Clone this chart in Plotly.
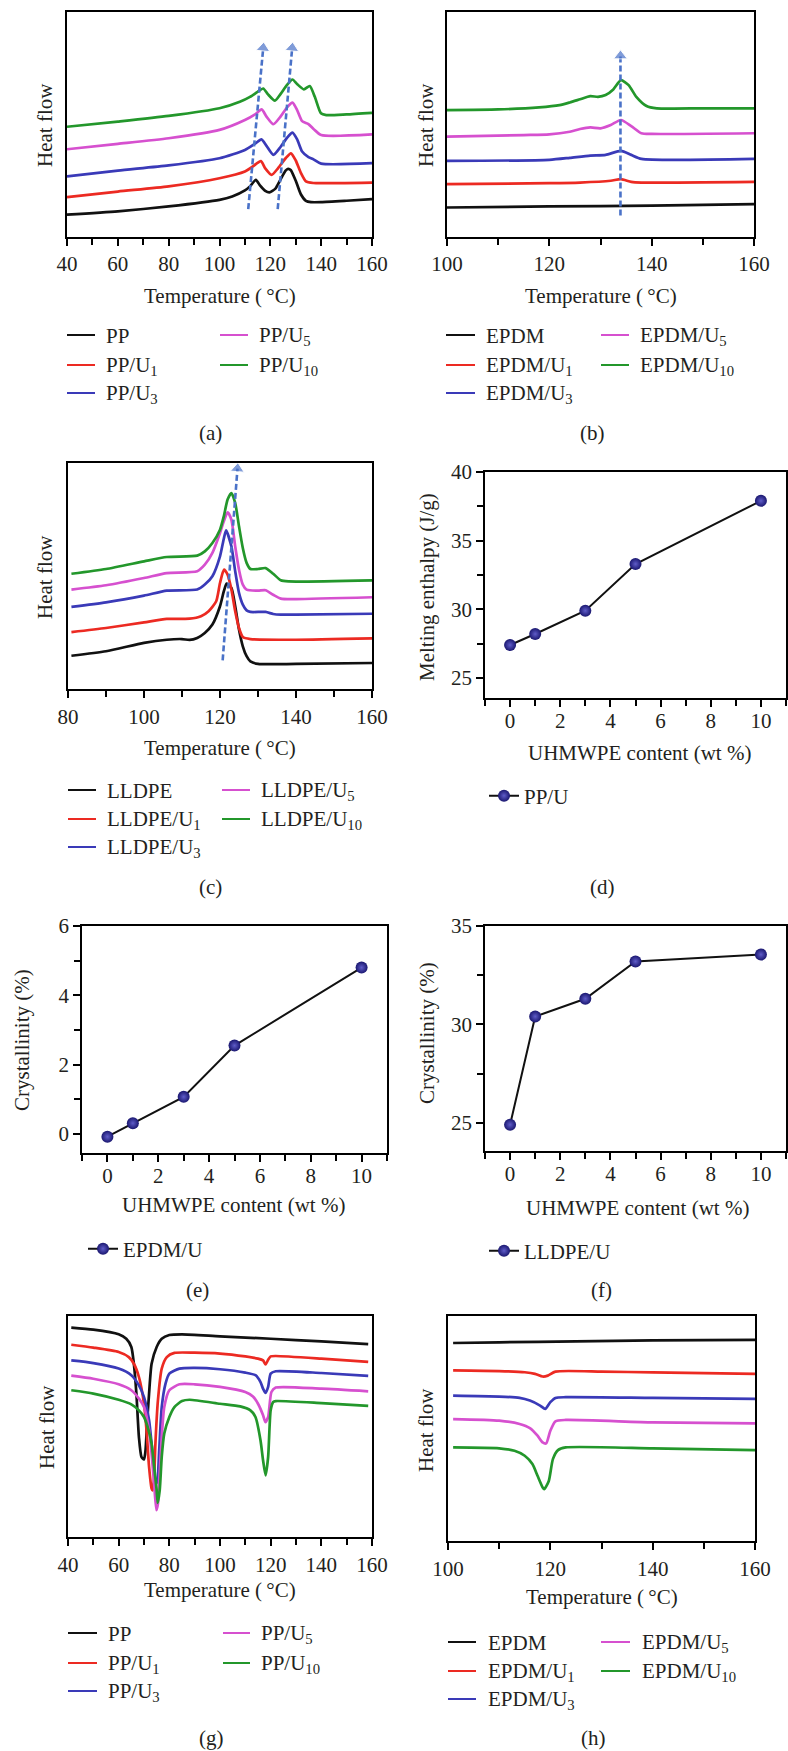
import plotly.graph_objects as go

W, H = 788, 1751
FONT = "Liberation Serif"
FS = 21
TXT = "#231f20"
COLORS = ["#111111", "#ec2a22", "#3a3ab8", "#d650cf", "#23972b"]
ARROW = "#4a72c8"

# ---------------- data ----------------
# (a) PP melting
a_names = ["PP", "PP/U<sub>1</sub>", "PP/U<sub>3</sub>", "PP/U<sub>5</sub>", "PP/U<sub>10</sub>"]
a_pp_T = [40, 60, 80, 100, 105, 110, 112, 114.3, 116, 118, 119.6, 122, 124, 126, 127, 128, 130, 132, 134, 136, 140, 150, 160]
a_pp_y = [9.9, 11.4, 13.6, 16.5, 18.0, 20.7, 22.5, 25.4, 22.8, 20.5, 19.8, 21.5, 25.5, 29.5, 30.3, 29.8, 25.0, 19.0, 16.1, 15.5, 15.5, 16.1, 16.8]
a_u1_T = [40, 60, 80, 100, 110, 113, 116.3, 118, 120.5, 123, 126, 128.1, 130, 132, 134, 137, 140, 160]
a_u1_y = [17.7, 20.2, 22.5, 26.1, 29.1, 31.3, 33.7, 30.5, 27.6, 30.5, 35.0, 37.2, 34.0, 28.5, 24.7, 24.0, 23.9, 24.2]
a_u3_T = [40, 60, 80, 100, 110, 114, 116.5, 118.5, 121.2, 124, 126.5, 128.7, 130.5, 132.5, 135, 137, 140, 160]
a_u3_y = [26.9, 29.5, 31.8, 35.0, 38.7, 41.5, 43.4, 40.5, 36.5, 40.0, 44.0, 46.4, 43.5, 38.0, 35.5, 34.5, 32.6, 32.8]
a_u5_T = [40, 60, 80, 100, 110, 114, 116.6, 118.5, 121.2, 124, 126.5, 128.7, 130.5, 132.5, 135, 137, 140, 160]
a_u5_y = [39.0, 41.4, 43.9, 47.6, 52.0, 54.5, 56.7, 53.5, 50.1, 53.5, 57.5, 59.7, 56.5, 51.5, 50.2, 48.0, 45.3, 45.6]
a_u10_T = [40, 60, 80, 100, 108, 112, 115, 117.2, 119, 121.8, 124, 126.5, 128.7, 130.5, 133.2, 135.5, 137.5, 139.9, 142, 150, 160]
a_u10_y = [49.0, 51.3, 53.8, 57.2, 60.1, 62.3, 64.5, 66.0, 63.5, 60.6, 63.5, 67.5, 70.0, 68.0, 65.6, 67.1, 62.3, 55.0, 54.2, 54.5, 55.2]
a_arrows = [([111.3, 117.2], [12.4, 84.0]), ([122.9, 128.6], [12.4, 84.0])]

# (b) EPDM melting
b_names = ["EPDM", "EPDM/U<sub>1</sub>", "EPDM/U<sub>3</sub>", "EPDM/U<sub>5</sub>", "EPDM/U<sub>10</sub>"]
b_ep_T = [100, 120, 140, 160]
b_ep_y = [13.1, 13.6, 13.9, 14.6]
b_u1_T = [100, 120, 126, 132, 134, 136, 138, 160]
b_u1_y = [23.5, 23.9, 24.2, 25.0, 25.7, 24.5, 24.2, 24.5]
b_u3_T = [100, 120, 124, 128, 131, 134, 136, 138, 160]
b_u3_y = [33.8, 34.3, 35.2, 36.2, 36.5, 38.3, 36.5, 34.7, 34.7]
b_u5_T = [100, 115, 120, 124, 126, 128, 130, 132, 134, 136, 138, 140, 160]
b_u5_y = [44.6, 45.3, 45.6, 46.8, 48.0, 48.7, 48.3, 49.8, 52.0, 49.3, 46.1, 45.8, 46.1]
b_u10_T = [100, 110, 118, 122, 124, 126, 128, 129.5, 131, 132.5, 134, 135.5, 137, 139, 141, 150, 160]
b_u10_y = [56.4, 56.7, 57.6, 58.6, 59.8, 61.2, 62.6, 62.3, 63.1, 65.6, 69.7, 67.5, 62.3, 58.2, 57.2, 57.2, 57.2]
b_arrows = [([133.9, 133.9], [9.5, 80.5])]

# (c) LLDPE melting
c_names = ["LLDPE", "LLDPE/U<sub>1</sub>", "LLDPE/U<sub>3</sub>", "LLDPE/U<sub>5</sub>", "LLDPE/U<sub>10</sub>"]
c_ll_T = [80.9, 90, 100, 106, 110, 112, 114, 116, 118, 120, 121, 121.75, 123, 124, 125, 126, 127, 128, 130, 140, 160]
c_ll_y = [14.7, 16.7, 20.4, 21.8, 22.1, 21.7, 22.6, 24.8, 28.5, 36.6, 43.2, 46.6, 44.7, 36.6, 26.3, 18.9, 14.5, 12.2, 11.1, 11.1, 11.5]
c_u1_T = [80.9, 90, 100, 106, 112, 115, 117, 119, 120, 121.05, 122, 123, 124, 125, 126, 128, 140, 160]
c_u1_y = [25.2, 27.0, 29.5, 31.0, 31.1, 32.2, 34.4, 38.8, 46.9, 52.8, 50.6, 44.0, 34.4, 27.0, 23.0, 22.1, 21.8, 22.4]
c_u3_T = [80.9, 90, 100, 106, 114, 116, 118, 120, 121, 121.6, 123, 124, 125, 126, 127, 128, 132, 134, 136, 140, 160]
c_u3_y = [36.3, 38.3, 41.3, 43.5, 44.0, 46.2, 49.9, 58.7, 66.5, 70.2, 63.1, 52.1, 42.5, 37.3, 34.8, 34.1, 34.1, 33.2, 32.9, 32.9, 33.3]
c_u5_T = [80.9, 90, 100, 106, 114, 116, 118, 120, 121, 122, 123, 124, 125, 126, 127, 130, 132, 134, 136, 140, 160]
c_u5_y = [44.0, 45.9, 49.1, 51.3, 52.1, 55.0, 60.2, 69.0, 74.2, 78.2, 74.9, 63.1, 52.8, 46.2, 44.0, 43.5, 43.7, 41.7, 40.0, 39.8, 40.6]
c_u10_T = [80.9, 90, 100, 106, 114, 116, 118, 120, 121, 122, 123, 124, 125, 126, 127, 128, 130, 132, 134, 136, 138, 160]
c_u10_y = [51.0, 53.1, 56.5, 58.4, 59.0, 60.9, 64.6, 70.5, 76.4, 83.8, 86.7, 82.3, 72.0, 62.4, 55.8, 53.1, 53.1, 53.5, 51.0, 48.1, 47.6, 48.1]
c_arrows = [([120.7, 124.6], [12.7, 97.5])]

# (d)-(f) summary values
uhmwpe_content = [0, 1, 3, 5, 10]
d_melting_enthalpy = [27.4, 28.2, 29.9, 33.3, 37.9]
e_crystallinity = [-0.08, 0.31, 1.07, 2.55, 4.8]
f_crystallinity = [24.9, 30.4, 31.3, 33.2, 33.55]

# (g) PP crystallization
g_pp_T = [41.3, 50, 60, 63, 65, 66, 67, 68, 69, 70, 70.6, 71.2, 72, 73, 75, 77, 80, 85, 100, 120, 140, 158.5]
g_pp_y = [94.7, 93.8, 91.7, 89.7, 86.0, 78.4, 64.9, 45.2, 36.2, 35.1, 39.2, 51.3, 64.9, 78.4, 86.0, 89.7, 91.4, 91.7, 90.8, 89.7, 88.5, 87.3]
g_u1_T = [41.3, 50, 60, 64, 66, 68, 70, 71, 72, 73, 73.4, 74, 74.5, 75.5, 77, 79, 82, 90, 100, 110, 115, 117, 118, 119, 120, 122, 140, 158.5]
g_u1_y = [87.0, 85.7, 83.7, 81.4, 78.4, 72.4, 60.3, 48.3, 31.7, 21.9, 21.1, 27.1, 42.2, 61.8, 76.2, 81.4, 83.3, 83.4, 83.0, 81.7, 80.7, 79.9, 78.1, 80.2, 81.7, 81.9, 80.7, 79.2]
g_u3_T = [41.3, 50, 60, 65, 68, 70, 72, 73, 74, 74.7, 75.3, 76, 77, 78.5, 80, 84, 90, 100, 110, 114, 116, 117, 118, 119, 120, 122, 140, 158.5]
g_u3_y = [79.9, 78.7, 76.2, 73.2, 68.6, 63.3, 52.8, 42.2, 30.2, 24.1, 25.6, 39.2, 58.8, 69.4, 73.9, 76.2, 76.5, 75.9, 74.4, 73.2, 70.1, 67.1, 65.2, 67.9, 73.9, 75.0, 74.2, 72.9]
g_u5_T = [41.3, 50, 60, 65, 68, 70, 72, 73, 74, 74.9, 75.5, 76, 77, 78, 80, 84, 90, 100, 110, 113, 115, 117, 117.9, 119, 120.3, 122, 140, 158.5]
g_u5_y = [73.0, 71.6, 69.1, 66.4, 62.6, 58.8, 48.3, 37.7, 24.1, 12.1, 15.1, 25.6, 45.2, 58.8, 66.4, 69.1, 69.1, 67.9, 65.6, 63.6, 60.3, 55.1, 52.0, 54.3, 65.6, 67.6, 67.1, 65.9]
g_u10_T = [41.3, 50, 60, 65, 68, 70, 72, 73, 74, 75, 75.4, 76.2, 77, 78, 80, 82, 85, 88, 100, 108, 112, 114, 116, 117, 118, 119, 120, 121, 122, 140, 158.5]
g_u10_y = [66.4, 64.9, 62.1, 60.0, 57.3, 54.3, 47.5, 42.2, 31.7, 21.1, 15.4, 21.1, 36.2, 46.8, 54.3, 58.8, 61.5, 62.1, 60.3, 59.1, 57.3, 54.3, 43.7, 34.7, 27.9, 36.2, 57.3, 61.1, 61.5, 60.6, 59.3]

# (h) EPDM crystallization
h_ep_T = [101, 110, 125, 140, 160]
h_ep_y = [88.0, 88.3, 88.7, 89.2, 89.4]
h_u1_T = [101, 110, 115, 117, 118.5, 119.5, 121, 130, 140, 160]
h_u1_y = [75.8, 75.5, 75.0, 74.3, 73.1, 73.5, 75.3, 75.3, 74.9, 74.3]
h_u3_T = [101, 110, 114, 116, 118, 119, 120, 121, 123, 140, 160]
h_u3_y = [64.6, 64.2, 63.6, 62.4, 60.2, 58.7, 61.7, 63.6, 63.9, 63.6, 63.2]
h_u5_T = [101, 110, 114, 116, 117.5, 118.5, 119.2, 120, 121, 123, 140, 160]
h_u5_y = [54.2, 53.5, 52.0, 50.2, 46.8, 43.8, 43.4, 49.0, 53.2, 53.8, 52.7, 52.3]
h_u10_T = [101, 110, 113, 115, 116.5, 117.5, 118.5, 118.8, 119.7, 120.5, 121.5, 123, 140, 160]
h_u10_y = [41.6, 41.2, 40.1, 37.9, 34.2, 29.0, 23.8, 23.0, 26.7, 36.4, 40.4, 41.6, 41.2, 40.4]

# ---------------- helpers ----------------
def px(x):
    return x / W

def py(y):
    return 1 - y / H

fig = go.Figure()

def add_curves(curves, xa, ya):
    for (T, y), col in zip(curves, COLORS):
        fig.add_trace(go.Scatter(x=T, y=y, mode="lines", xaxis=xa, yaxis=ya,
                                 line=dict(color=col, width=2.7, shape="spline", smoothing=0.6),
                                 showlegend=False, hoverinfo="skip"))

def add_arrows(arrows, xa, ya):
    for xs, ys in arrows:
        fig.add_trace(go.Scatter(x=xs, y=ys, mode="lines+markers", xaxis=xa, yaxis=ya,
                                 line=dict(color=ARROW, width=2.6, dash="6px,3px"),
                                 marker=dict(symbol="triangle-up", size=[0, 12], color=ARROW,
                                             angleref="previous"),
                                 cliponaxis=False, showlegend=False, hoverinfo="skip"))

add_curves([(a_pp_T, a_pp_y), (a_u1_T, a_u1_y), (a_u3_T, a_u3_y), (a_u5_T, a_u5_y), (a_u10_T, a_u10_y)], "x", "y")
add_arrows(a_arrows, "x", "y")
add_curves([(b_ep_T, b_ep_y), (b_u1_T, b_u1_y), (b_u3_T, b_u3_y), (b_u5_T, b_u5_y), (b_u10_T, b_u10_y)], "x2", "y2")
add_arrows(b_arrows, "x2", "y2")
add_curves([(c_ll_T, c_ll_y), (c_u1_T, c_u1_y), (c_u3_T, c_u3_y), (c_u5_T, c_u5_y), (c_u10_T, c_u10_y)], "x3", "y3")
add_arrows(c_arrows, "x3", "y3")
add_curves([(g_pp_T, g_pp_y), (g_u1_T, g_u1_y), (g_u3_T, g_u3_y), (g_u5_T, g_u5_y), (g_u10_T, g_u10_y)], "x7", "y7")
add_curves([(h_ep_T, h_ep_y), (h_u1_T, h_u1_y), (h_u3_T, h_u3_y), (h_u5_T, h_u5_y), (h_u10_T, h_u10_y)], "x8", "y8")

MARK = dict(size=12, color="#1a1770", line=dict(width=0),
            gradient=dict(type="radial", color="#5f5cc8"))
for vals, name, xa, ya, lg in [(d_melting_enthalpy, "PP/U", "x4", "y4", "legend"),
                               (e_crystallinity, "EPDM/U", "x5", "y5", "legend2"),
                               (f_crystallinity, "LLDPE/U", "x6", "y6", "legend3")]:
    fig.add_trace(go.Scatter(x=uhmwpe_content, y=vals, mode="lines+markers", name=name,
                             xaxis=xa, yaxis=ya, legend=lg,
                             line=dict(color="#111111", width=2), marker=MARK,
                             cliponaxis=False, showlegend=True))

# ---------------- axes ----------------
TICKFONT = dict(family=FONT, size=FS, color=TXT)

def xdom(l, r):
    return [px(l), px(r)]

def ydom(t, b):
    return [py(b), py(t)]

def base_axis():
    return dict(showline=True, linecolor="black", linewidth=1.5, mirror=True,
                showgrid=False, zeroline=False, fixedrange=True, automargin=False)

def heat_x(dom, rng, dtick, standoff=1):
    d = base_axis()
    d.update(domain=dom, range=rng, dtick=dtick, tick0=rng[0], ticks="outside", ticklen=7,
             tickwidth=1.5, tickcolor="black", tickfont=TICKFONT, ticklabelstandoff=standoff,
             minor=dict(ticks="outside", ticklen=6, tickwidth=1.5, tickcolor="black",
                        dtick=10, tick0=0, showgrid=False))
    return d

def heat_y(dom):
    d = base_axis()
    d.update(domain=dom, range=[0, 100], showticklabels=False, ticks="")
    return d

def num_x(dom):
    d = base_axis()
    d.update(domain=dom, range=[-1, 11], dtick=2, tick0=0, ticks="outside", ticklen=7,
             tickwidth=1.5, tickcolor="black", tickfont=TICKFONT, ticklabelstandoff=-4,
             minor=dict(ticks="outside", ticklen=6, tickwidth=1.5, tickcolor="black",
                        dtick=1, tick0=0, showgrid=False))
    return d

def num_y(dom, rng, dtick, minor):
    d = base_axis()
    d.update(domain=dom, range=rng, dtick=dtick, tick0=0, ticks="outside", ticklen=7,
             tickwidth=1.5, tickcolor="black", tickfont=TICKFONT,
             minor=dict(ticks="outside", ticklen=6, tickwidth=1.5, tickcolor="black",
                        dtick=minor, tick0=0, showgrid=False))
    return d

layout = dict(
    width=W, height=H, margin=dict(l=0, r=0, t=0, b=0, pad=0, autoexpand=False),
    autosize=False,
    paper_bgcolor="white", plot_bgcolor="rgba(0,0,0,0)",
    font=dict(family=FONT, size=FS, color=TXT),
    xaxis=dict(heat_x(xdom(67, 372), [40, 160], 20, 0), anchor="y"),
    yaxis=dict(heat_y(ydom(12, 237)), anchor="x"),
    xaxis2=dict(heat_x(xdom(447, 754), [100, 160], 20, 0), anchor="y2"),
    yaxis2=dict(heat_y(ydom(12, 237)), anchor="x2"),
    xaxis3=dict(heat_x(xdom(68, 372), [80, 160], 20, 1), anchor="y3"),
    yaxis3=dict(heat_y(ydom(463, 689)), anchor="x3"),
    xaxis4=dict(num_x(xdom(485, 786)), anchor="y4"),
    yaxis4=dict(num_y(ydom(472, 698), [23.54, 40], 5, 2.5), anchor="x4"),
    xaxis5=dict(num_x(xdom(82, 387)), anchor="y5"),
    yaxis5=dict(num_y(ydom(926, 1153), [-0.55, 6], 2, 1), anchor="x5"),
    xaxis6=dict(num_x(xdom(485, 786)), anchor="y6"),
    yaxis6=dict(num_y(ydom(926, 1151), [23.56, 35], 5, 2.5), anchor="x6"),
    xaxis7=dict(heat_x(xdom(68, 372), [40, 160], 20, 1), anchor="y7"),
    yaxis7=dict(heat_y(ydom(1316, 1537)), anchor="x7"),
    xaxis8=dict(heat_x(xdom(448, 755), [100, 160], 20, 1), anchor="y8"),
    yaxis8=dict(heat_y(ydom(1316, 1541)), anchor="x8"),
)

LEG = dict(xanchor="left", yanchor="middle", bgcolor="rgba(0,0,0,0)", borderwidth=0,
           itemwidth=30, font=dict(family=FONT, size=FS, color=TXT), itemclick=False)
layout["legend"] = dict(LEG, x=px(484), y=py(796))
layout["legend2"] = dict(LEG, x=px(83), y=py(1249))
layout["legend3"] = dict(LEG, x=px(484), y=py(1251))
fig.update_layout(**layout)

# ---------------- text annotations ----------------
ann = []
shapes = []

def text(x, y, s, angle=0, xanchor="center"):
    ann.append(dict(x=px(x), y=py(y), xref="paper", yref="paper", text=s, showarrow=False,
                    textangle=angle, xanchor=xanchor, yanchor="middle",
                    font=dict(family=FONT, size=FS, color=TXT)))

TEMP = "Temperature (\u2009°C)"
UHM = "UHMWPE content (wt %)"
# axis titles
text(220, 296, TEMP); text(601, 296, TEMP); text(220, 748, TEMP)
text(220, 1590, TEMP); text(602, 1597, TEMP)
text(639, 753, UHM); text(233, 1205, UHM); text(637, 1208, UHM)
text(45, 125, "Heat flow", -90); text(426, 125, "Heat flow", -90)
text(45, 577, "Heat flow", -90); text(47, 1427, "Heat flow", -90); text(426, 1430, "Heat flow", -90)
text(427, 587, "Melting enthalpy (J/g)", -90)
text(22, 1040, "Crystallinity (%)", -90)
text(427, 1033, "Crystallinity (%)", -90)
# captions
for cx, cy, s in [(210, 433, "(a)"), (592, 433, "(b)"), (210, 887, "(c)"), (602, 887, "(d)"),
                  (198, 1290, "(e)"), (601, 1290, "(f)"), (211, 1738, "(g)"), (593, 1738, "(h)")]:
    text(cx, cy, s)

# two-column legends for the DSC panels
def legend_block(names, c1, c2, rows):
    pos = [(c1, rows[0]), (c1, rows[1]), (c1, rows[2]), (c2, rows[0]), (c2, rows[1])]
    for name, col, ((lx0, lx1, tx), ry) in zip(names, COLORS, pos):
        shapes.append(dict(type="line", xref="paper", yref="paper", x0=px(lx0), x1=px(lx1),
                           y0=py(ry), y1=py(ry), line=dict(color=col, width=2)))
        text(tx, ry + 1, name, xanchor="left")

legend_block(a_names, (67, 95, 104), (220, 248, 257), (335, 365, 393))
legend_block(b_names, (446, 475, 484), (601, 629, 638), (335, 365, 393))
legend_block(c_names, (68, 96, 105), (222, 250, 259), (790, 819, 847))
legend_block(a_names, (68, 97, 106), (223, 250, 259), (1633, 1663, 1691))
legend_block(b_names, (448, 476, 486), (601, 630, 640), (1642, 1671, 1699))

fig.update_layout(annotations=ann, shapes=shapes)
fig.write_html("out.html")
